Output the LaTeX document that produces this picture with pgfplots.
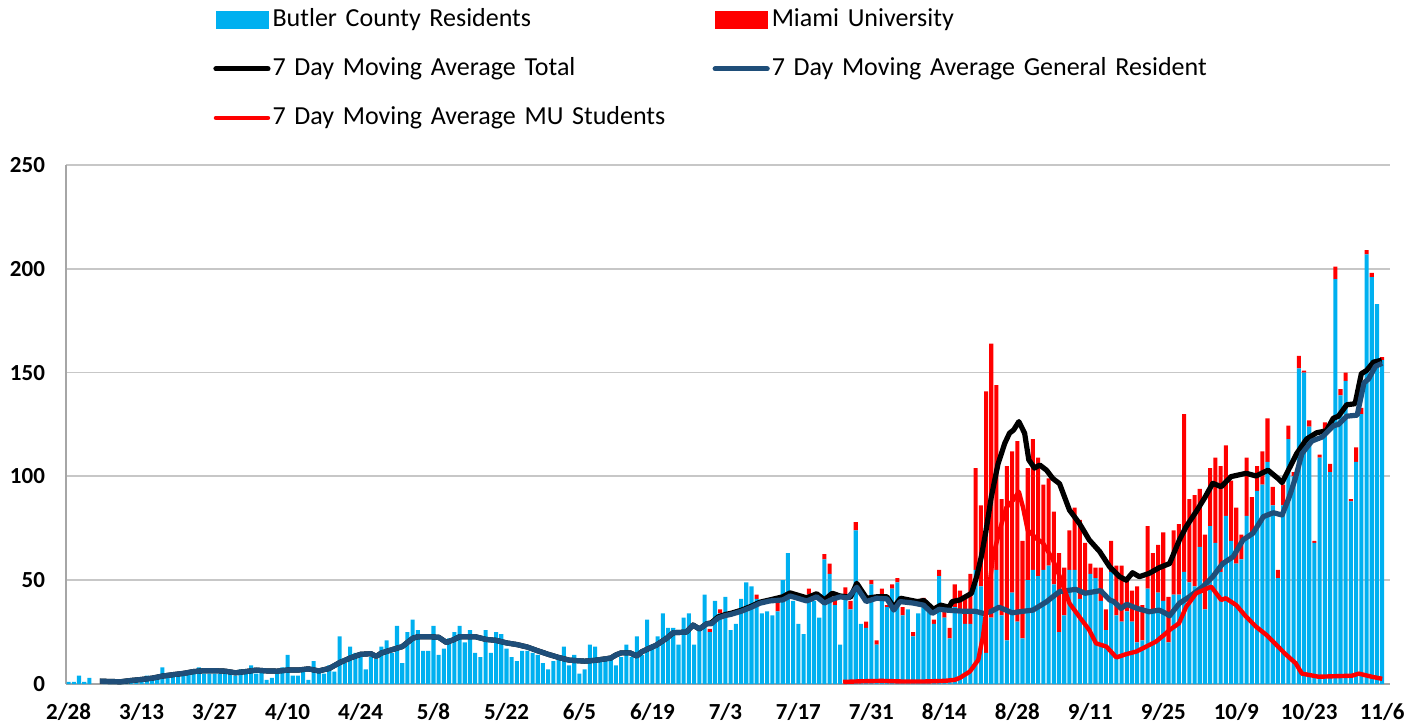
\documentclass[border=0pt]{standalone}
\usepackage{pgfplots}
\pgfplotsset{compat=1.18}
\usepackage{pgfplotstable}
\usepackage{fontspec}
\setmainfont{Carlito}
\definecolor{cbl}{HTML}{00B0F0}
\definecolor{cred}{HTML}{FF0000}
\definecolor{cnavy}{HTML}{1F4E79}

\pgfplotstableread{
d b r
0 1 0
1 1 0
2 4 0
3 1 0
4 3 0
5 0 0
6 0 0
7 1 0
8 1 0
9 1 0
10 2 0
11 2 0
12 2 0
13 3 0
14 3 0
15 4 0
16 3 0
17 4 0
18 8 0
19 4 0
20 5 0
21 5 0
22 4 0
23 5 0
24 5 0
25 8 0
26 5 0
27 5 0
28 5 0
29 5 0
30 6 0
31 5 0
32 4 0
33 7 0
34 5 0
35 9 0
36 5 0
37 6 0
38 2 0
39 3 0
40 5 0
41 8 0
42 14 0
43 4 0
44 4 0
45 6 0
46 2 0
47 11 0
48 6 0
49 5 0
50 9 0
51 6 0
52 23 0
53 10 0
54 18 0
55 15 0
56 15 0
57 7 0
58 13 0
59 12 0
60 18 0
61 21 0
62 15 0
63 28 0
64 10 0
65 25 0
66 31 0
67 26 0
68 16 0
69 16 0
70 28 0
71 14 0
72 17 0
73 22 0
74 25 0
75 28 0
76 20 0
77 26 0
78 15 0
79 13 0
80 26 0
81 15 0
82 25 0
83 24 0
84 17 0
85 13 0
86 11 0
87 16 0
88 16 0
89 15 0
90 14 0
91 10 0
92 7 0
93 11 0
94 12 0
95 18 0
96 9 0
97 14 0
98 5 0
99 7 0
100 19 0
101 18 0
102 11 0
103 11 0
104 12 0
105 9 0
106 13 0
107 19 0
108 13 0
109 23 0
110 14 0
111 31 0
112 19 0
113 23 0
114 34 0
115 27 0
116 27 0
117 19 0
118 32 0
119 34 0
120 19 0
121 28 0
122 43 0
123 25 1.5
124 40 0
125 34 2
126 42 0
127 26 0
128 29 0
129 41 0
130 49 0
131 47 0
132 41 2
133 34 0
134 35 0
135 33 0
136 35 5
137 50 0
138 63 0
139 40 0
140 29 0
141 24 0
142 43 3
143 40 0
144 32 0
145 60 2.5
146 53 5
147 38 4
148 19 0
149 43 3.5
150 36 4
151 74 4
152 29 0
153 27 3
154 48 2
155 19 2
156 42 4
157 37 1
158 46 2
159 49 2
160 33 4
161 36 0
162 23 2
163 34 0
164 40 1.5
165 37 0
166 29 2
167 52 3
168 32 3
169 22 5
170 37 11
171 34 11
172 29 12
173 29 24
174 55 49
175 47 39
176 15 126
177 32 132
178 55 89
179 33 56
180 21 84
181 44 68
182 30 87
183 22 47
184 50 54
185 55 63
186 52 57
187 55 41
188 57 42
189 48 35
190 25 38
191 33 23
192 55 19
193 55 30
194 41 38
195 44 24
196 53 5
197 51 5
198 40 16
199 26 10
200 54 15
201 33 24
202 30 27
203 35 15
204 30 15
205 20 27
206 21 17
207 46 30
208 35 28
209 44 23
210 40 33
211 20 22
212 43 31
213 43 34
214 54 76
215 49 40
216 47 44
217 66 28
218 36 36
219 76 28
220 68 41
221 54 51
222 81 34
223 69 29
224 58 27
225 60 12
226 81 28
227 73 17
228 93 12
229 96 16
230 107 21
231 86 9
232 51 4
233 86 10
234 118 6.5
235 100 2
236 152 6
237 150 1
238 124 3
239 68 1
240 109 1.5
241 122.5 3.5
242 102 4
243 195 6
244 139 3
245 146 4
246 88 1
247 107 7
248 130 3
249 207 2
250 196 2
251 183 0
252 156 1.5
}\bars

\pgfplotstableread{
d v
6 1.4
8 1.2
10 1.1
12 1.7
14 2.2
16 2.8
18 3.8
20 4.5
22 5.1
24 6.0
26 6.4
28 6.4
30 6.2
32 5.4
34 6.0
36 6.7
38 6.3
40 6.2
42 6.7
44 6.7
46 7.3
48 6.3
50 7.5
52 10.3
54 12.5
56 14.3
58 14.6
59 13.3
60 14.9
62 16.5
64 18
66 22
67 22.8
69 22.8
71 22.5
72.5 20
74 21.5
75 22.8
78 22.8
80 21.5
82 21
84 19.8
86 19
88 17.8
90 16
92 14.3
94 12.8
96 11.5
99 11
101 11.4
104 12.5
105 14
106 15
107.7 15
109 13.5
110 15.6
112.8 18.8
114.7 22
116 24.7
118.5 25
119.8 28.4
121 26.5
122.4 29
123.3 29
124.6 31.8
126 33
127 33.5
129 35
131 37
132.6 38.9
134.5 40
137 40.5
138.4 42.4
141.6 40
143.5 42
145 39
146.5 40.8
148 42
149.5 41.5
151.2 46.6
153 39.7
155 41.3
157 41
158.3 35.6
159.5 39.7
162 39
164 38
165.7 34
167 36
168.4 35.6
170 35.3
172 35
174 35
175.5 34
177 35
178.5 37
181 34.3
183 35
185 35.6
187.6 39.6
188.8 42
190.1 44.5
193.2 45.6
195 43.7
198 45
199.7 40.5
200.5 39.7
201.9 36.4
203 38.4
205 36.4
207.3 34.8
209.2 35.6
210.5 34
211.2 32.8
213.1 38.9
215 42
217.6 46.9
219.5 51.7
221.4 58
223.4 61.3
225.3 69.4
227.2 72.6
229.2 80.6
231.1 82.5
232.8 81.4
234.1 89.6
235.4 99.6
236.6 111
238.5 117
240.5 119
242.7 124.5
243.6 125
245.2 129
247.2 129.5
248.5 145
249.4 147
250.7 153
252 154.5
}\gen

\pgfplotstableread{
d v
6 1.4
8 1.2
10 1.1
12 1.7
14 2.2
16 2.8
18 3.8
20 4.5
22 5.1
24 6.0
26 6.4
28 6.4
30 6.2
32 5.4
34 6.0
36 6.7
38 6.3
40 6.2
42 6.7
44 6.7
46 7.3
48 6.3
50 7.5
52 10.3
54 12.5
56 14.3
58 14.6
59 13.3
60 14.9
62 16.5
64 18
66 22
67 22.8
69 22.8
71 22.5
72.5 20
74 21.5
75 22.8
78 22.8
80 21.5
82 21
84 19.8
86 19
88 17.8
90 16
92 14.3
94 12.8
96 11.5
99 11
101 11.4
104 12.5
105 14
106 15
107.7 15
109 13.5
110 15.6
112.8 18.8
114.7 22
116 24.7
118.5 25
119.8 28.4
121 26.5
122.4 29
123.3 29.5
124.6 32.3
126 33.5
127 34
129 35.5
131 37.5
132.6 39.4
134.5 40.5
137 42
138.4 43.9
141.6 41.5
143.5 43.5
145 40.5
146.5 43.7
148 42.4
150 41.8
151.2 48.5
153.1 41.3
155 42
157 42
158.3 37
159.6 41.3
161.2 40.5
162.8 39.7
164.1 40.2
165.9 36
167.3 38
168.9 37
169.5 39.7
171 40.5
173.2 43.7
174.2 51.7
175.1 61.4
176 74
177 90
178.3 106
179.6 116
180.5 120.8
181.3 122.4
182.3 126.4
183.4 120.8
184.2 108
185.3 104
186.3 105.5
187.6 103
188.8 99
190.1 96.5
192 83.8
193.9 77.4
195.8 69.4
197.8 63.8
199.7 56.5
201.6 51.7
202.9 50
204.1 53.6
205.4 51.7
207.3 53.3
209.2 56
211.2 58
213.1 69.4
214.4 75.8
216.3 83
217.9 89.5
219.5 96.7
221.1 95
223 99.9
225.9 101.5
227.8 100.2
230.1 103
232 99
232.8 97
234 103
235.6 111
237.5 118
239.4 121
241.3 122
242.6 128
243.6 129
245.2 134.5
246.8 135
248 149.5
249 151
250.3 155
251.9 156
}\tot

\pgfplotstableread{
d v
148.6 1
152 1.3
156 1.5
160 1.2
164 1.2
168 1.5
170 2
171 3
172.9 6
174.5 11.6
175.4 22.8
176.4 42
177.3 61
178.6 74
179.9 85
181.2 88.6
182.3 92.6
183.1 85
184 74
185.7 70
186.9 68
188.8 60
190.1 52
192 38.9
193.9 32.4
195.8 26
197.1 19.6
199.1 18
201 12.8
202.9 14.4
204.8 15.6
206.7 18
208.6 20.4
210.5 24.4
211.2 26
213 29.2
214.4 37.2
216.3 43.7
219.2 46.9
221.1 40.5
222 41.3
224 38
225.9 32.4
227.8 27.6
229.8 23.6
231.7 18.8
233.4 14.5
235.4 10
236.6 5
239.8 3.5
246.2 4
247.5 5
250 3.5
252 2.5
}\mu

\begin{document}
\begin{tikzpicture}
\useasboundingbox (0,0) rectangle (708pt,363.5pt);
\pgfplotsset{
  common/.style={
    at={(33pt,21.5pt)}, anchor=south west,
    scale only axis, width=662pt, height=259.5pt,
    xmin=-0.5, xmax=253.5, ymin=0, ymax=250,
  }
}
\begin{axis}[common,
  ybar stacked, bar width=0.78,
  axis lines*=left,
  axis line style={-, draw=black!35, line width=1pt},
  ymajorgrids, grid style={black!22, line width=0.9pt},
  major tick length=0pt,
  ytick={0,50,...,250},
  xtick={0,14,...,252},
  xticklabels={2/28,3/13,3/27,4/10,4/24,5/8,5/22,6/5,6/19,7/3,7/17,7/31,8/14,8/28,9/11,9/25,10/9,10/23,11/6},
  tick label style={font=\bfseries\fontsize{11.5}{13}\selectfont, /pgf/number format/assume math mode=true},
  yticklabel style={xshift=-7pt},
  xticklabel style={yshift=-6pt},
]
\addplot[fill=cbl, draw=none] table[x=d, y=b] {\bars};
\addplot[fill=cred, draw=none] table[x=d, y=r] {\bars};
\end{axis}
\begin{axis}[common, hide axis,
  legend columns=2,
  legend style={at={(0.111,1.3025)}, anchor=north west, draw=none, fill=none,
    inner sep=0pt, row sep=13pt,
    font=\fontsize{13}{15}\selectfont,
    nodes={inner sep=0pt, text height=9pt, text depth=2.5pt, text width=220pt, align=left},
    /tikz/every odd column/.append style={column sep=1pt}},
  legend cell align=left,
  legend image code/.code={\draw[line cap=round] (0pt,0pt) -- (26pt,0pt);},
]
\addlegendimage{legend image code/.code={\fill[cbl] (0pt,-4.25pt) rectangle (26pt,4.25pt);}}
\addlegendentry{Butler County Residents}
\addlegendimage{legend image code/.code={\fill[cred] (0pt,-4.25pt) rectangle (26pt,4.25pt);}}
\addlegendentry{Miami University}
\addplot[black, line width=2.6pt, line join=round] table[x=d, y=v] {\tot};
\addlegendentry{7 Day Moving Average Total}
\addplot[cnavy, line width=2.6pt, line join=round] table[x=d, y=v] {\gen};
\addlegendentry{7 Day Moving Average General Resident}
\addplot[cred, line width=2.2pt, line join=round] table[x=d, y=v] {\mu};
\addlegendentry{7 Day Moving Average MU Students}
\end{axis}
\end{tikzpicture}
\end{document}
